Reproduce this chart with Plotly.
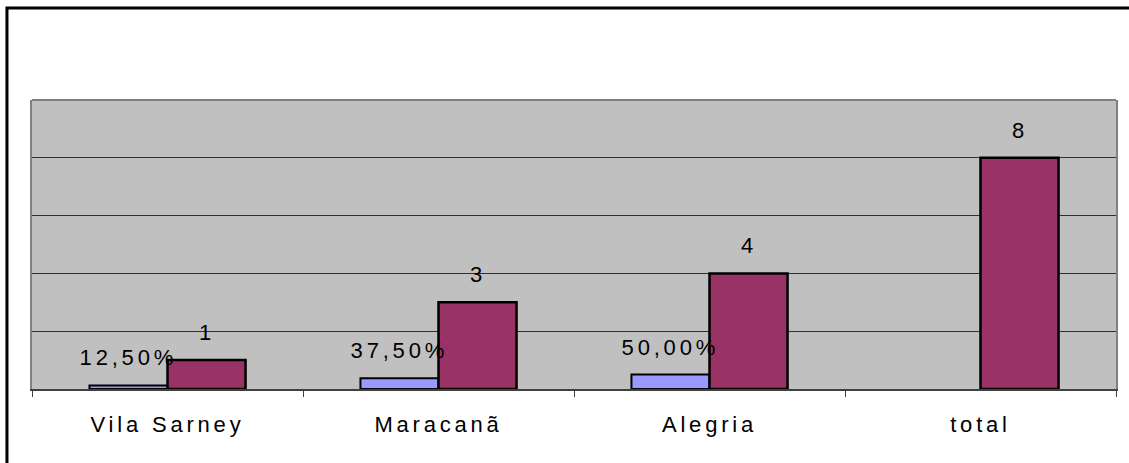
import plotly.graph_objects as go

categories = ["Vila Sarney", "Maracanã", "Alegria", "total"]
pct_values = [0.125, 0.375, 0.5, None]
pct_labels = ["12,50%", "37,50%", "50,00%", None]
count_values = [1, 3, 4, 8]
count_labels = ["1", "3", "4", "8"]
grid_ticks = [2, 4, 6, 8]

FONT = "Liberation Sans, Arial, sans-serif"
FS = 22

fig = go.Figure()
fig.add_trace(go.Bar(x=categories, y=pct_values, name="%",
                     marker=dict(color="#9999FF", line=dict(color="black", width=2))))
fig.add_trace(go.Bar(x=categories, y=count_values, name="n",
                     marker=dict(color="#993366", line=dict(color="black", width=2.5))))

annotations = []
for c, v, t in zip(categories, pct_values, pct_labels):
    if v is None:
        continue
    annotations.append(dict(x=c, y=v, text=t, showarrow=False, xref="x", yref="y",
                            xanchor="center", yanchor="bottom", xshift=-39, yshift=13,
                            font=dict(family=FONT, size=FS, color="black")))
for c, v, t in zip(categories, count_values, count_labels):
    annotations.append(dict(x=c, y=v, text=t, showarrow=False, xref="x", yref="y",
                            xanchor="center", yanchor="bottom", xshift=39, yshift=13,
                            font=dict(family=FONT, size=FS, color="black")))

fig.update_layout(
    width=1129, height=463,
    margin=dict(l=32, r=13, t=100, b=74),
    paper_bgcolor="white", plot_bgcolor="#C0C0C0",
    barmode="group", bargap=0.424, bargroupgap=0,
    showlegend=False,
    annotations=annotations,
    font=dict(family=FONT, size=FS, color="black"),
    shapes=[
        dict(type="rect", xref="paper", yref="paper",
             x0=-0.0231, x1=1.02, y0=-0.3, y1=1.318,
             line=dict(color="black", width=3), fillcolor="rgba(0,0,0,0)", layer="above"),
        dict(type="line", xref="paper", yref="paper", x0=0, x1=1, y0=1, y1=1,
             line=dict(color="#808080", width=2)),
    ],
)
fig.update_xaxes(type="category", showline=True, linecolor="#404040", linewidth=1.5,
                 ticks="outside", ticklen=6, tickcolor="#404040", tickson="boundaries",
                 showgrid=False, ticklabelstandoff=15,
                 tickfont=dict(family=FONT, size=FS, color="black"))
fig.update_yaxes(range=[0, 10], tickvals=grid_ticks, showticklabels=False,
                 showgrid=True, gridcolor="#303030", gridwidth=1, zeroline=False,
                 showline=True, mirror=True, linecolor="#808080", linewidth=2, ticks="")

post = """
document.body.style.margin='0';
document.querySelectorAll('.xtick text, .annotation-text').forEach(function(e){
  e.style.letterSpacing='3.8px';
});
"""
fig.write_html("out.html", post_script=post, config={"displayModeBar": False})
